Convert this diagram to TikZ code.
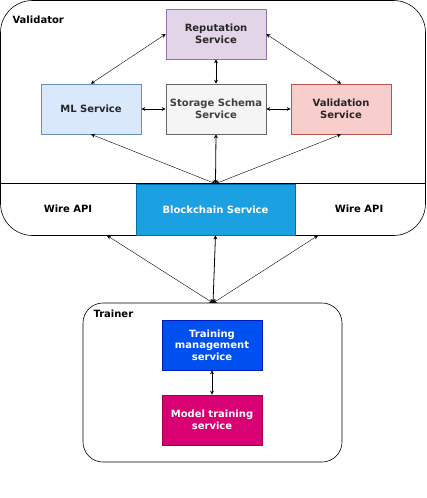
\documentclass[tikz,border=0pt]{standalone}
\usepackage{fontspec}
\setmainfont{DejaVu Sans}
\usetikzlibrary{arrows.meta, positioning, calc}
\definecolor{repfill}{HTML}{E1D5E7}
\definecolor{repline}{HTML}{9673A6}
\definecolor{mlfill}{HTML}{DAE8FC}
\definecolor{mlline}{HTML}{6C8EBF}
\definecolor{stofill}{HTML}{F5F5F5}
\definecolor{stoline}{HTML}{666666}
\definecolor{valfill}{HTML}{F8CECC}
\definecolor{valline}{HTML}{B85450}
\definecolor{bcfill}{HTML}{1BA1E2}
\definecolor{bcline}{HTML}{006EAF}
\definecolor{tmfill}{HTML}{0050EF}
\definecolor{tmline}{HTML}{001DBC}
\definecolor{mtfill}{HTML}{D80073}
\definecolor{mtline}{HTML}{A50040}

\begin{document}
\begin{tikzpicture}[x=1pt, y=-1pt, >={Stealth[length=4pt, width=4pt]},
  font=\fontsize{10}{11.5}\selectfont\bfseries,
  svc/.style={draw, minimum width=100pt, minimum height=50pt, align=center, inner sep=1pt, line width=0.6pt},
  link/.style={<->, line width=0.4pt},
  short/.style={<->, line width=0.8pt}]
  \useasboundingbox (0,0) rectangle (426,498);

  % validator container, wire api band underneath
  \draw[rounded corners=32pt, line width=0.6pt] (0.5,235.5) -- (0.5,0.5) -- (425.5,0.5) -- (425.5,235.5) -- cycle;
  \draw[line width=0.6pt] (0.5,183.5) -- (425.5,183.5);
  \node[anchor=west] (vlabel) at (9,20) {Validator};
  \node (wirel) at (68,209) {Wire API};
  \node (wirer) at (359,209) {Wire API};
  \coordinate (wlport) at (107,235.5);
  \coordinate (wrport) at (318,235.5);

  % services of the validator
  \node[svc, fill=repfill, draw=repline, text=black!85] (rep) at (216,34) {Reputation\\Service};
  \node[svc, fill=mlfill, draw=mlline, text=black!85] (ml) at (91,109) {ML Service};
  \node[svc, fill=stofill, draw=stoline, text=black!75] (sto) at (216,109) {Storage Schema\\Service};
  \node[svc, fill=valfill, draw=valline, text=black!85] (val) at (341,109) {Validation\\Service};
  \node[svc, fill=bcfill, draw=bcline, text=white, minimum width=159pt, minimum height=51pt] (chain) at (215.5,209.5) {Blockchain Service};

  % trainer container
  \draw[rounded corners=20pt, line width=0.6pt] (83,303) rectangle (342,462);
  \coordinate (tport) at (213,303);
  \node[anchor=west] (tlabel) at (90,314) {Trainer};
  \node[svc, fill=tmfill, draw=tmline, text=white] (tms) at (212,345) {Training\\management\\service};
  \node[svc, fill=mtfill, draw=mtline, text=white] (mts) at (212,420) {Model training\\service};

  % links inside the validator
  \draw[link] (rep.west) -- (ml.north);
  \draw[link] (rep.east) -- (val.north);
  \draw[short] (rep.south) -- (sto.north);
  \draw[short] (ml.east) -- (sto.west);
  \draw[short] (sto.east) -- (val.west);
  \draw[link] (ml.south) -- (chain.north);
  \draw[short] (sto.south) -- (chain.north);
  \draw[link] (val.south) -- (chain.north);

  % links to the trainer
  \draw[link] (wlport) -- (tport);
  \draw[short] (chain.south) -- (tport);
  \draw[link] (wrport) -- (tport);
  \draw[short] (tms.south) -- (mts.north);
\end{tikzpicture}
\end{document}
